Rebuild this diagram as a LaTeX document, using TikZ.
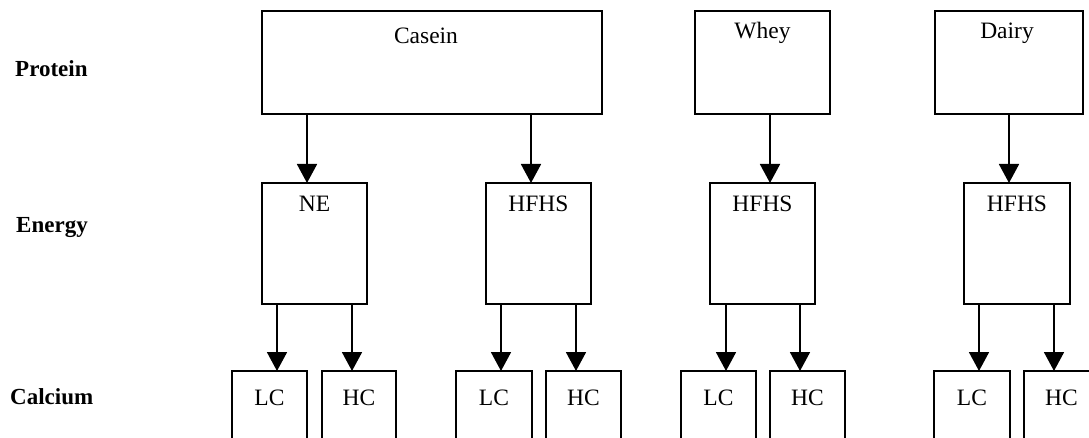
\documentclass[tikz,border=0pt]{standalone}
\usepackage{fontspec}
\setmainfont{Liberation Serif}
\usetikzlibrary{arrows.meta}
\begin{document}
\begin{tikzpicture}[x=1pt,y=-1pt,
  box/.style={draw=black,line width=1.4pt,rectangle,inner sep=0pt,outer sep=0pt,anchor=north west,fill=none},
  arr/.style={line width=1.8pt,-{Triangle[width=20pt,length=19pt]}},
  txt/.style={anchor=base,inner sep=0pt,font=\fontsize{23.5}{27}\selectfont},
  rowlab/.style={anchor=base west,inner sep=0pt,font=\fontsize{23}{27}\selectfont\bfseries}]
\useasboundingbox (0,0) rectangle (1089,438);
\clip (0,0) rectangle (1089,438);
% top row
\node[box,minimum width=340pt,minimum height=103pt] (casein) at (262,11) {};
\node[box,minimum width=135pt,minimum height=103pt] (whey) at (695,11) {};
\node[box,minimum width=148pt,minimum height=103pt] (dairy) at (935,11) {};
\node[txt] (tcasein) at ([xshift=-6pt,yshift=-33pt]casein.north) {Casein};
\node[txt] (twhey) at ([yshift=-28pt]whey.north) {Whey};
\node[txt] (tdairy) at ([xshift=-2pt,yshift=-28pt]dairy.north) {Dairy};
% energy row
\node[box,minimum width=105pt,minimum height=121pt] (ne) at (262,183) {};
\node[box,minimum width=105pt,minimum height=121pt] (h1) at (486,183) {};
\node[box,minimum width=105pt,minimum height=121pt] (h2) at (710,183) {};
\node[box,minimum width=106pt,minimum height=121pt] (h3) at (964,183) {};
\node[txt] (tne) at ([yshift=-29pt]ne.north) {NE};
\node[txt] (th1) at ([yshift=-29pt]h1.north) {HFHS};
\node[txt] (th2) at ([yshift=-29pt]h2.north) {HFHS};
\node[txt] (th3) at ([yshift=-29pt]h3.north) {HFHS};
% calcium row
\node[box,minimum width=75pt,minimum height=100pt] (lc1) at (232,371) {};
\node[box,minimum width=74pt,minimum height=100pt] (hc1) at (322,371) {};
\node[box,minimum width=76pt,minimum height=100pt] (lc2) at (456,371) {};
\node[box,minimum width=75pt,minimum height=100pt] (hc2) at (546,371) {};
\node[box,minimum width=75pt,minimum height=100pt] (lc3) at (681,371) {};
\node[box,minimum width=75pt,minimum height=100pt] (hc3) at (770,371) {};
\node[box,minimum width=76pt,minimum height=100pt] (lc4) at (934,371) {};
\node[box,minimum width=75pt,minimum height=100pt] (hc4) at (1024,371) {};
\foreach \n in {lc1,lc2,lc3,lc4}{\node[txt] (t\n) at ([yshift=-34pt]\n.north) {LC};}
\foreach \n in {hc1,hc2,hc3,hc4}{\node[txt] (t\n) at ([yshift=-34pt]\n.north) {HC};}
% row labels
\node[rowlab] (lprot) at (15,77) {Protein};
\node[rowlab] (lener) at (16,233) {Energy};
\node[rowlab] (lcalc) at (10,404) {Calcium};
% arrows top -> energy
\draw[arr] ([xshift=45pt]ne.north west |- casein.south) -- ([xshift=45pt]ne.north west);
\draw[arr] ([xshift=45pt]h1.north west |- casein.south) -- ([xshift=45pt]h1.north west);
\draw[arr] ([xshift=60pt]h2.north west |- whey.south) -- ([xshift=60pt]h2.north west);
\draw[arr] ([xshift=45pt]h3.north west |- dairy.south) -- ([xshift=45pt]h3.north west);
% arrows energy -> calcium
\draw[arr] ([xshift=15pt]ne.south west) -- ([xshift=15pt]ne.south west |- lc1.north);
\draw[arr] ([xshift=-15pt]ne.south east) -- ([xshift=-15pt]ne.south east |- hc1.north);
\draw[arr] ([xshift=15pt]h1.south west) -- ([xshift=15pt]h1.south west |- lc2.north);
\draw[arr] ([xshift=-15pt]h1.south east) -- ([xshift=-15pt]h1.south east |- hc2.north);
\draw[arr] ([xshift=16pt]h2.south west) -- ([xshift=16pt]h2.south west |- lc3.north);
\draw[arr] ([xshift=-15pt]h2.south east) -- ([xshift=-15pt]h2.south east |- hc3.north);
\draw[arr] ([xshift=15pt]h3.south west) -- ([xshift=15pt]h3.south west |- lc4.north);
\draw[arr] ([xshift=-16pt]h3.south east) -- ([xshift=-16pt]h3.south east |- hc4.north);
\end{tikzpicture}
\end{document}
